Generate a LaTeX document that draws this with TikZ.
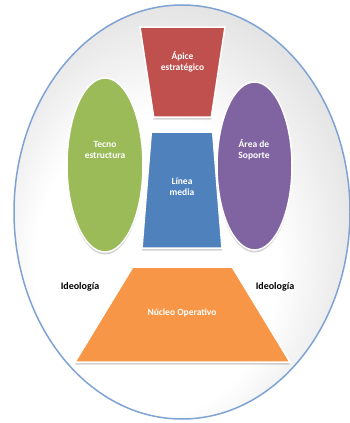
\documentclass[tikz,border=0pt]{standalone}
\usepackage{fontspec}
\setmainfont{Carlito}
\usepackage{xcolor}
\usetikzlibrary{shapes.geometric, shadows, calc}

\definecolor{apicered}{HTML}{C0504D}
\definecolor{lineablue}{HTML}{4F81BD}
\definecolor{tecnogreen}{HTML}{9BBB59}
\definecolor{soportepurple}{HTML}{8064A2}
\definecolor{nucleoorange}{HTML}{F79646}
\definecolor{rimblue}{HTML}{7FA3D3}

\pgfdeclareradialshading{discshade}{\pgfpoint{-6bp}{-10bp}}{%
    color(0bp)=(white); color(18bp)=(white); color(33bp)=(gray!28);
    color(50bp)=(gray!68)}

\begin{document}
\begin{tikzpicture}[
    x=1pt, y=-1pt,
    part/.style={draw=white, line width=1.5pt, inner sep=1pt,
        drop shadow={opacity=0.35, shadow xshift=0pt, shadow yshift=-2.5pt}},
    trap/.style={part, trapezium, trapezium stretches=true},
    oval/.style={part, ellipse},
    txt/.style={text=white, font=\bfseries\fontsize{9.5}{10.5}\selectfont, align=center},
    ideo/.style={text=black, font=\bfseries\fontsize{10}{11}\selectfont}
]
\useasboundingbox (0,0) rectangle (350,423);

% background
\begin{scope}
\clip (0,0) rectangle (350,423);
\fill[white] (0,0) rectangle (350,423);
\shade[shading=discshade, draw=rimblue, line width=1.5pt]
    (182,212) ellipse [x radius=168, y radius=207];
\end{scope}

% parts
\node[trap, fill=apicered, shape border rotate=180, trapezium angle=77.5,
    minimum width=85pt, minimum height=90pt] (apice) at (182.5,72) {\phantom{x}};
\node[trap, fill=lineablue, trapezium angle=81.9,
    minimum width=80pt, minimum height=116pt] (linea) at (182,190) {\phantom{x}};
\node[trap, fill=nucleoorange, trapezium angle=61.5,
    minimum width=215pt, minimum height=95pt] (nucleo) at (182.5,314.5) {\phantom{x}};
\node[oval, fill=tecnogreen, minimum width=76pt, minimum height=174pt] (tecno) at (105,165) {};
\node[oval, fill=soportepurple, minimum width=75pt, minimum height=168pt] (soporte) at (254.5,166) {};

% texts
\node[txt] (apicetxt) at (182.5,62) {Ápice\\estratégico};
\node[txt] (lineatxt) at (182,187) {Línea\\media};
\node[txt] (nucleotxt) at (182,313) {Núcleo Operativo};
\node[txt] (tecnotxt) at (105,150) {Tecno\\estructura};
\node[txt] (soportetxt) at (254,150) {Área de\\Soporte};
\node[ideo] (ideoleft) at (80,287) {Ideología};
\node[ideo] (ideoright) at (275,287) {Ideología};

\end{tikzpicture}
\end{document}
